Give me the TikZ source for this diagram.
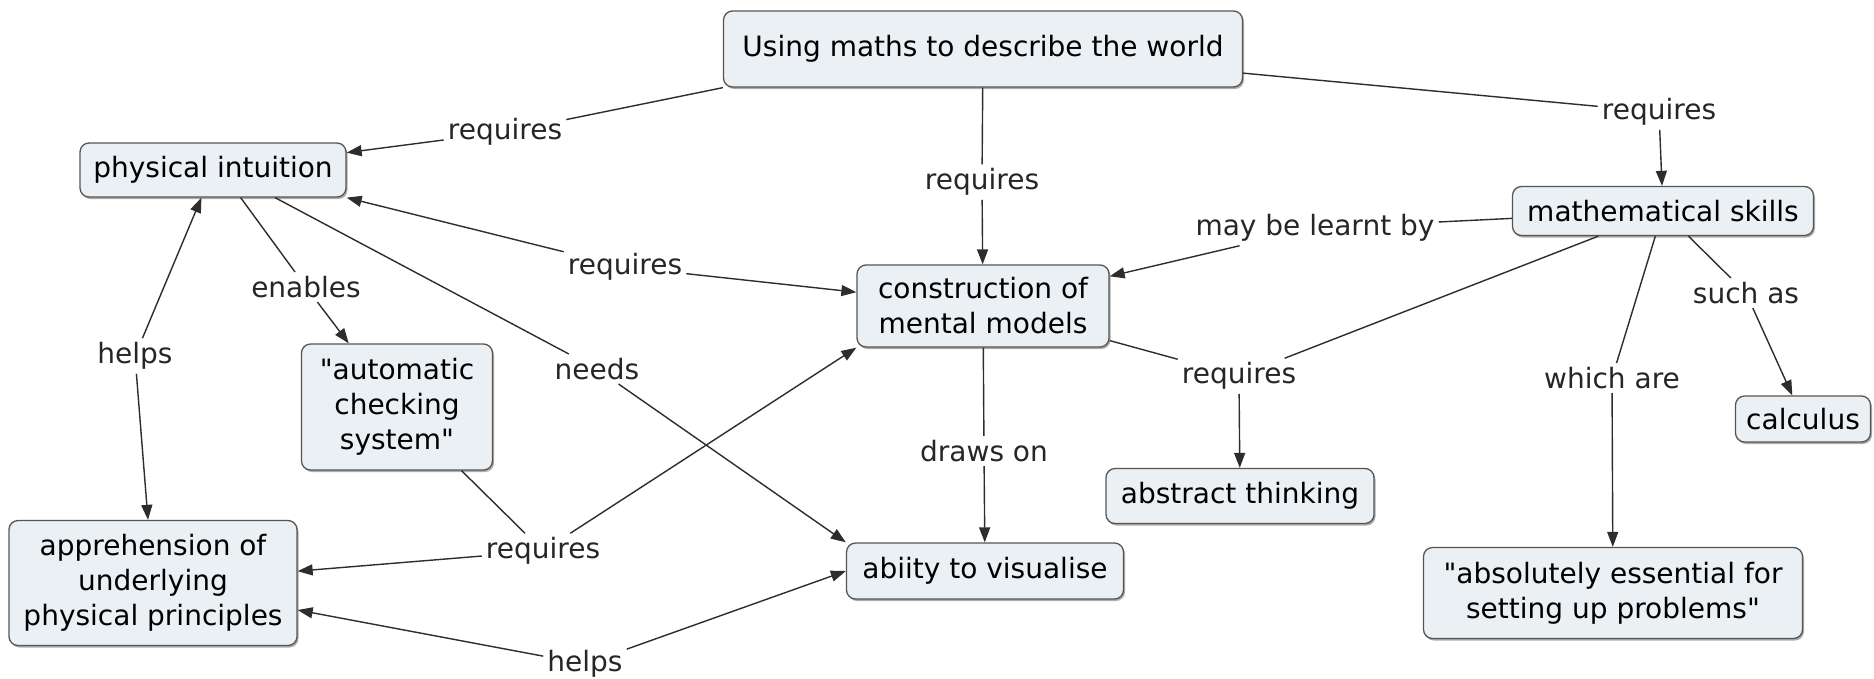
\documentclass[tikz,border=0pt]{standalone}
\usepackage{fontspec}
\setmainfont{DejaVu Sans}[Ligatures=TeXOff]
\usetikzlibrary{arrows.meta,shadows}
\definecolor{boxfill}{RGB}{234,240,243}
\definecolor{boxdraw}{RGB}{85,85,85}
\definecolor{linecol}{RGB}{45,45,45}
\begin{document}
\begin{tikzpicture}[x=1pt,y=-1pt,
  concept/.style={draw=boxdraw, line width=1.3pt, fill=boxfill, rounded corners=9pt,
    align=center, inner sep=0pt, font=\fontsize{28}{35}\selectfont,
    drop shadow={shadow xshift=1.5pt, shadow yshift=-2pt, fill=black!40, opacity=0.8}},
  link/.style={inner sep=4pt, font=\fontsize{28}{35}\selectfont, text=black!85},
  conn/.style={draw=linecol, line width=1.4pt},
  arr/.style={conn, -{Triangle[length=15pt,width=11pt]}}]
\fill[white] (0,0) rectangle (1874,678);
\useasboundingbox (0,0) rectangle (1874,678);
% concepts
\node[concept, minimum width=519pt, minimum height=76pt] (um) at (983,49) {Using maths to describe the world};
\node[concept, minimum width=266pt, minimum height=54pt] (pi) at (213,170) {physical intuition};
\node[concept, minimum width=301pt, minimum height=49pt] (ms) at (1663,211) {mathematical skills};
\node[concept, minimum width=252pt, minimum height=82pt] (cm) at (983,306) {construction of\\mental models};
\node[concept, minimum width=191pt, minimum height=126pt] (acs) at (397,407) {"automatic\\checking\\system"};
\node[concept, minimum width=288pt, minimum height=125pt] (ap) at (153,583) {apprehension of\\underlying\\physical principles};
\node[concept, minimum width=277pt, minimum height=56pt] (av) at (985,571) {abiity to visualise};
\node[concept, minimum width=268pt, minimum height=55pt] (at) at (1240,496) {abstract thinking};
\node[concept, minimum width=135pt, minimum height=46pt] (ca) at (1803,419) {calculus};
\node[concept, minimum width=379pt, minimum height=91pt] (ae) at (1613,593) {"absolutely essential for\\setting up problems"};
% linking phrases
\node[link] (l1) at (505,132) {requires};
\node[link] (l2) at (982,182) {requires};
\node[link] (l3) at (1659,112) {requires};
\node[link] (l4) at (625,267) {requires};
\node[link] (l5) at (306,287) {enables};
\node[link] (l6) at (597,369) {needs};
\node[link] (l7) at (135,356) {helps};
\node[link] (l8) at (543,551) {requires};
\node[link] (l9) at (585,664) {helps};
\node[link] (l10) at (984,451) {draws on};
\node[link] (l11) at (1315,228) {may be learnt by};
\node[link] (l12) at (1239,376) {requires};
\node[link] (l13) at (1612,378) {which are};
\node[link] (l14) at (1746,293) {such as};
% connectors
\draw[conn] (um.south west) -- (l1);
\draw[arr] (l1) -- (pi);
\draw[conn] (um) -- (l2);
\draw[arr] (l2) -- (cm);
\draw[conn] (um) -- (l3);
\draw[arr] (l3) -- (ms);
\draw[arr] (l4) -- (pi.south east);
\draw[arr] (l4) -- (cm);
\draw[conn] (pi.-45) -- (l5);
\draw[arr] (l5) -- (acs);
\draw[conn] (pi.-24) -- (l6);
\draw[arr] (l6) -- (av.north west);
\draw[arr] (l7) -- (pi);
\draw[arr] (l7) -- (ap);
\draw[conn] (acs) -- (l8);
\draw[arr] (l8) -- (ap);
\draw[arr] (l8) -- (cm.south west);
\draw[arr] (l9) -- (ap);
\draw[arr] (l9) -- (av.west);
\draw[conn] (cm) -- (l10);
\draw[arr] (l10) -- (av);
\draw[conn] (ms) -- (l11);
\draw[arr] (l11) -- (cm);
\draw[conn] (cm) -- (l12);
\draw[conn] (ms) -- (l12);
\draw[arr] (l12) -- (at);
\draw[conn] (ms) -- (l13);
\draw[arr] (l13) -- (ae);
\draw[conn] (ms) -- (l14);
\draw[arr] (l14) -- (ca);
\end{tikzpicture}
\end{document}
